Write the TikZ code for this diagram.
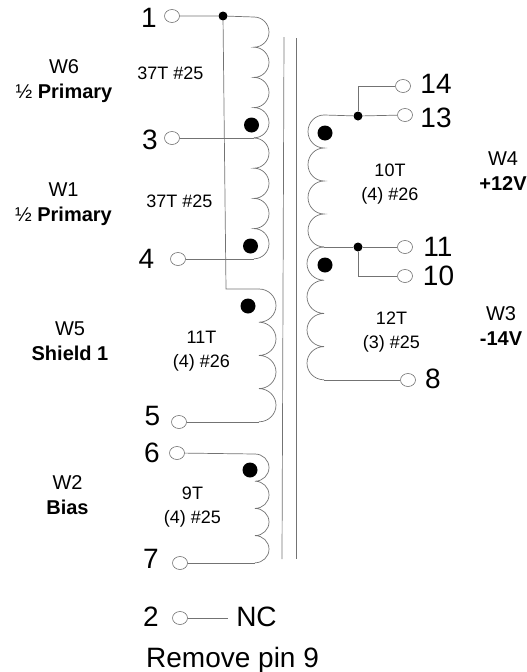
\documentclass[tikz,border=0pt]{standalone}
\usepackage{fontspec}
\setmainfont{Liberation Sans}
\usetikzlibrary{shapes.geometric}
\definecolor{wire}{gray}{0.45}
\newcommand{\coilR}[5]{\draw[wirestyle] (#1) \foreach \i in {1,...,#2}{ arc[start angle=90,end angle=-90,x radius=#3pt,y radius=#4pt] };}
\newcommand{\coilL}[5]{\draw[wirestyle] (#1) \foreach \i in {1,...,#2}{ arc[start angle=90,end angle=270,x radius=#3pt,y radius=#4pt] };}
\tikzset{
  x=1pt,y=-1pt,
  wirestyle/.style={draw=wire,line width=0.7pt},
  term/.style={ellipse,draw=wire,line width=0.6pt,fill=white,minimum width=15pt,minimum height=13pt,inner sep=0pt},
  junction/.style={circle,fill=black,minimum size=9pt,inner sep=0pt},
  phasedot/.style={circle,fill=black,minimum size=15pt,inner sep=0pt},
  pin/.style={font=\fontsize{28}{28}\selectfont,inner sep=0pt},
  lab/.style={font=\fontsize{18}{24}\selectfont,align=center,inner sep=0pt},
  wlab/.style={font=\fontsize{20}{25}\selectfont,align=center,inner sep=0pt},
}
\begin{document}
\begin{tikzpicture}
\useasboundingbox (0,0) rectangle (527,672);
% core
\coordinate (c1t) at (284,37); \coordinate (c1b) at (282,559);
\coordinate (c2t) at (296,38); \coordinate (c2b) at (296,559);
\draw[wirestyle] (c1t) -- (c1b);
\draw[wirestyle] (c2t) -- (c2b);
% coil anchor points
\coordinate (a1) at (254,17);
\coordinate (a3) at (254,138);
\coordinate (a4) at (254,259);
\coordinate (a5t) at (259,289);
\coordinate (a5) at (259,422);
\coordinate (a6) at (255,454);
\coordinate (a7) at (255,563);
\coordinate (b13) at (324,115);
\coordinate (b11) at (324,247);
\coordinate (b8) at (324,380);
\coordinate (sh) at (226,289);
\coordinate (t14) at (358,86);
\coordinate (t10) at (358,276);
% coils
\coilR{a1}{4}{15}{15.1}{}
\coilR{a3}{4}{15}{15.1}{}
\coilR{a5t}{4}{17}{16.6}{}
\coilR{a6}{4}{14}{13.6}{}
\coilL{b13}{4}{16}{16.5}{}
\coilL{b11}{4}{17}{16.6}{}
% terminals
\node[term] (p1) at (172,16) {};
\node[term] (p3) at (172,138) {};
\node[term] (p4) at (178,259) {};
\node[term] (p5) at (179,422) {};
\node[term] (p6) at (177,453) {};
\node[term] (p7) at (180,563) {};
\node[term] (p2) at (180,618) {};
\node[term] (p14) at (403,86) {};
\node[term] (p13) at (405,115) {};
\node[term] (p11) at (405,247) {};
\node[term] (p10) at (405,276) {};
\node[term] (p8) at (408,380) {};
% junctions
\node[junction] (j1) at (223,16) {};
\node[junction] (j13) at (358,116) {};
\node[junction] (j11) at (358,247) {};
% wires
\draw[wirestyle] (p1) -- (j1) -- (a1);
\draw[wirestyle] (j1) -- (sh) -- (a5t);
\draw[wirestyle] (p3) -- (a3);
\draw[wirestyle] (p4) -- (a4);
\draw[wirestyle] (p5) -- (a5);
\draw[wirestyle] (p6) -- (a6);
\draw[wirestyle] (p7) -- (a7);
\draw[wirestyle] (p13) -- (j13) -- (b13);
\draw[wirestyle] (j13) -- (t14) -- (p14);
\draw[wirestyle] (p11) -- (j11) -- (b11);
\draw[wirestyle] (j11) -- (t10) -- (p10);
\draw[wirestyle] (p8) -- (b8);
% phase dots
\node[phasedot] (d1) at (251.5,125) {};
\node[phasedot] (d2) at (250.5,246) {};
\node[phasedot] (d3) at (248,306) {};
\node[phasedot] (d4) at (250,470) {};
\node[phasedot] (d5) at (325,133) {};
\node[phasedot] (d6) at (325,265) {};
% pin numbers
\node[pin] (n1) at (149,18) {1};
\node[pin] (n3) at (150,140) {3};
\node[pin] (n4) at (146.5,259) {4};
\node[pin] (n5) at (152.5,416) {5};
\node[pin] (n6) at (152,453) {6};
\node[pin] (n7) at (151,559) {7};
\node[pin] (n2) at (151,616.5) {2};
\node[pin] (n14) at (436,84) {14};
\node[pin] (n13) at (436,118) {13};
\node[pin] (n11) at (438,247) {11};
\node[pin] (n10) at (438.5,276) {10};
\node[pin] (n8) at (433,379) {8};
\node[pin] (nc) at (256.5,617) {NC};
\coordinate (nce) at (228,618);
\draw[wirestyle] (p2) -- (nce);
\node[pin,anchor=base west] (rm) at (146,667) {Remove pin 9};
% winding labels
\node[lab] (l1) at (170.5,73) {37T \#25};
\node[lab] (l2) at (179.5,201) {37T \#25};
\node[lab] (l3) at (201.5,351) {11T\\(4) \#26};
\node[lab] (l4) at (192.5,507.5) {9T\\(4) \#25};
\node[lab] (l5) at (390,184.5) {10T\\(4) \#26};
\node[lab] (l6) at (391.5,332.5) {12T\\(3) \#25};
\node[wlab] (w6) at (64,81) {W6\\½ \textbf{Primary}};
\node[wlab] (w1) at (63.5,204.5) {W1\\½ \textbf{Primary}};
\node[wlab] (w5) at (70,341) {W5\\\textbf{Shield 1}};
\node[wlab] (w2) at (67.5,495) {W2\\\textbf{Bias}};
\node[wlab] (w4) at (503,171.5) {W4\\\textbf{+12V}};
\node[wlab] (w3) at (501,326) {W3\\\textbf{-14V}};
\end{tikzpicture}
\end{document}
